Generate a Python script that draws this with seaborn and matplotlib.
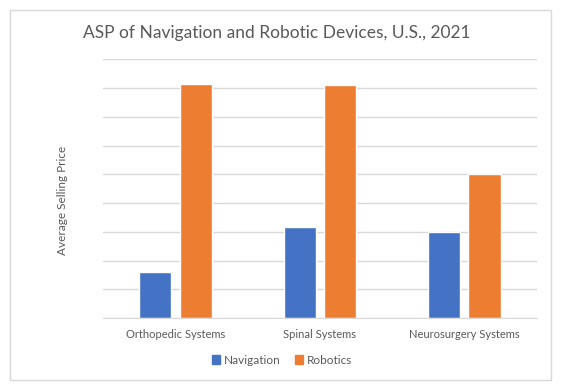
import matplotlib
matplotlib.use("Agg")
import matplotlib.pyplot as plt
import matplotlib.patches as mpatches
import pandas as pd
import seaborn as sns

# values (units = one gridline step)
categories = ["Orthopedic Systems", "Spinal Systems", "Neurosurgery Systems"]
navigation = [1.61, 3.18, 2.99]
robotics = [8.15, 8.12, 5.01]
series = ["Navigation", "Robotics"]
colors = ["#4472C4", "#ED7D31"]

df = pd.DataFrame({
    "category": categories * 2,
    "series": [series[0]] * 3 + [series[1]] * 3,
    "asp": navigation + robotics,
})

sns.set_style("white")
plt.rcParams["font.family"] = ["Lato", "DejaVu Sans"]
text_color = "#595959"
grid_color = "#D9D9D9"

fig = plt.figure(figsize=(5.65, 3.91), dpi=100)
ax = fig.add_axes([0.1828, 0.1867, 0.767, 0.6616])

sns.barplot(data=df, x="category", y="asp", hue="series", order=categories,
            hue_order=series, palette=colors, width=0.56, gap=0.2,
            saturation=1, legend=False, ax=ax)

ax.set_xlim(-0.5, 2.5)
ax.set_ylim(0, 9)
ax.set_yticks(range(0, 10))
ax.set_yticklabels([])
ax.tick_params(axis="y", length=0)
ax.tick_params(axis="x", length=0, labelsize=8, colors=text_color, pad=8)
ax.yaxis.grid(True, color=grid_color, linewidth=1)
ax.set_axisbelow(True)
for s in ["top", "right", "left"]:
    ax.spines[s].set_visible(False)
ax.spines["bottom"].set_color(grid_color)
ax.set_xlabel("")
ax.set_ylabel("")

fig.text(62.7 / 565, 1 - 200 / 391, "Average Selling Price", rotation=90,
         ha="center", va="center", fontsize=8.5, color=text_color)
fig.text(277 / 565, 1 - 33 / 391, "ASP of Navigation and Robotic Devices, U.S., 2021",
         ha="center", va="center", fontsize=12.5, color=text_color)

handles = [mpatches.Patch(color=c, label=s) for s, c in zip(series, colors)]
fig.legend(handles=handles, loc="center", bbox_to_anchor=(282 / 565, 1 - 360 / 391),
           ncol=2, frameon=False, handlelength=0.7, handleheight=0.7,
           handletextpad=0.3, columnspacing=1.2, fontsize=8.5, labelcolor=text_color)

fig.patches.append(mpatches.Rectangle((10 / 565, 1 - 380 / 391), 541 / 565, 370 / 391,
                                      transform=fig.transFigure, fill=False,
                                      edgecolor=grid_color, linewidth=1))

fig.savefig("out.png", dpi=100)
